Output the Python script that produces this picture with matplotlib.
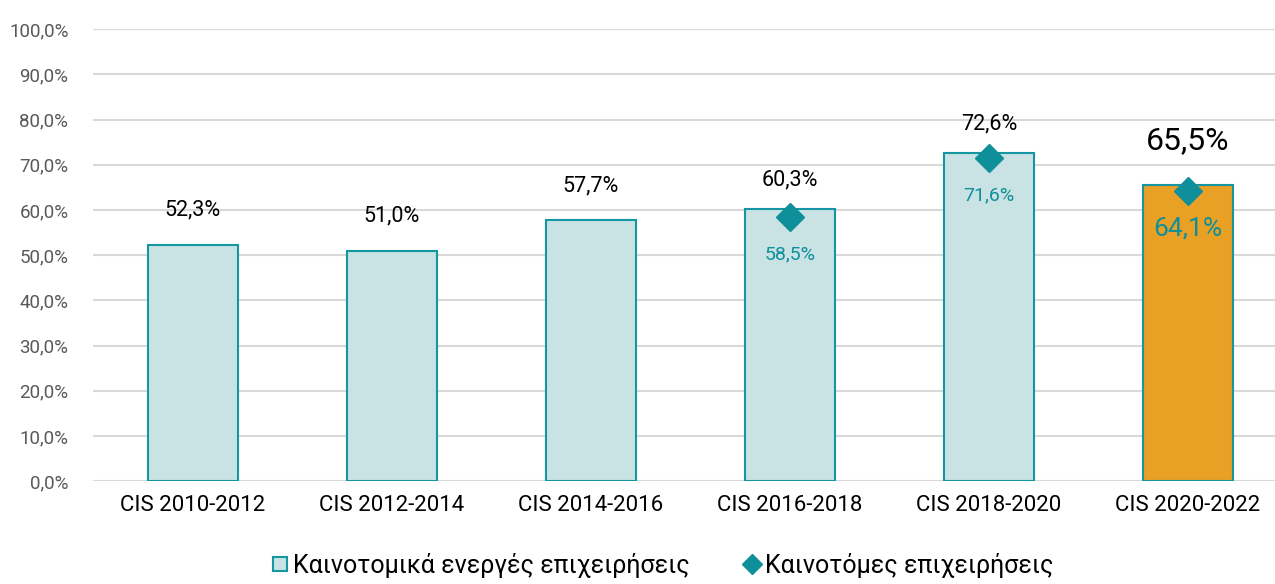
import matplotlib.pyplot as plt
from matplotlib.lines import Line2D

plt.rcParams['font.family'] = ['Roboto', 'DejaVu Sans']

periods = ["CIS 2010-2012", "CIS 2012-2014", "CIS 2014-2016",
           "CIS 2016-2018", "CIS 2018-2020", "CIS 2020-2022"]
active = [52.3, 51.0, 57.7, 60.3, 72.6, 65.5]
innovative = [None, None, None, 58.5, 71.6, 64.1]
yticks = [0, 10, 20, 30, 40, 50, 60, 70, 80, 90, 100]

light = "#C9E2E4"
teal = "#1496A3"
diamond = "#0E8F9A"
orange = "#E8A025"


def pct(v):
    return f"{v:.1f}%".replace(".", ",")


fig = plt.figure(figsize=(12.75, 5.84), dpi=100)
# axes runs a little past the right edge, like the original
ax = fig.add_axes([0.0733, 0.176, 0.9365, 0.774])

x = list(range(len(periods)))
colors = [light] * (len(periods) - 1) + [orange]
ax.bar(x, active, width=0.455, color=colors, edgecolor=teal, linewidth=1.5, zorder=2)

xi = [i for i, v in enumerate(innovative) if v is not None]
yi = [innovative[i] for i in xi]
ax.plot(xi, yi, linestyle="none", marker="D", ms=14, color=diamond, zorder=3)

last = len(periods) - 1
for i, v in enumerate(active):
    if i == last:
        off, fs = 32, 23
    elif innovative[i] is not None:
        off, fs = 21, 15.5
    else:
        off, fs = 25, 15.5
    ax.annotate(pct(v), (i, v), xytext=(0, off), textcoords="offset points",
                ha="center", va="center", fontsize=fs, color="black")

for i, v in zip(xi, yi):
    fs = 19 if i == last else 14
    ax.annotate(pct(v), (i, v), xytext=(0, -27), textcoords="offset points",
                ha="center", va="center", fontsize=fs, color=diamond)

ax.set_ylim(0, 100)
ax.set_xlim(-0.5, len(periods) - 0.5)
ax.set_yticks(yticks)
ax.set_yticklabels([pct(t) for t in yticks], fontsize=13.5, color="#595959")
ax.set_xticks(x)
ax.set_xticklabels(periods, fontsize=16, color="black")
ax.tick_params(length=0)
ax.tick_params(axis="y", pad=18)
ax.tick_params(axis="x", pad=10)
ax.grid(axis="y", color="#D9D9D9", linewidth=1.5, zorder=0)
ax.set_axisbelow(True)
for s in ax.spines.values():
    s.set_visible(False)

handles = [
    Line2D([], [], linestyle="none", marker="s", ms=10, markerfacecolor=light,
           markeredgecolor=teal, markeredgewidth=1.5),
    Line2D([], [], linestyle="none", marker="D", ms=10, color=diamond),
]
fig.legend(handles, ["Καινοτομικά ενεργές επιχειρήσεις", "Καινοτόμες επιχειρήσεις"],
           loc="lower center", bbox_to_anchor=(0.518, -0.028), ncol=2, frameon=False,
           fontsize=18, handletextpad=0.0, columnspacing=2.0, handlelength=1.0)

fig.savefig("out.png", dpi=100)
